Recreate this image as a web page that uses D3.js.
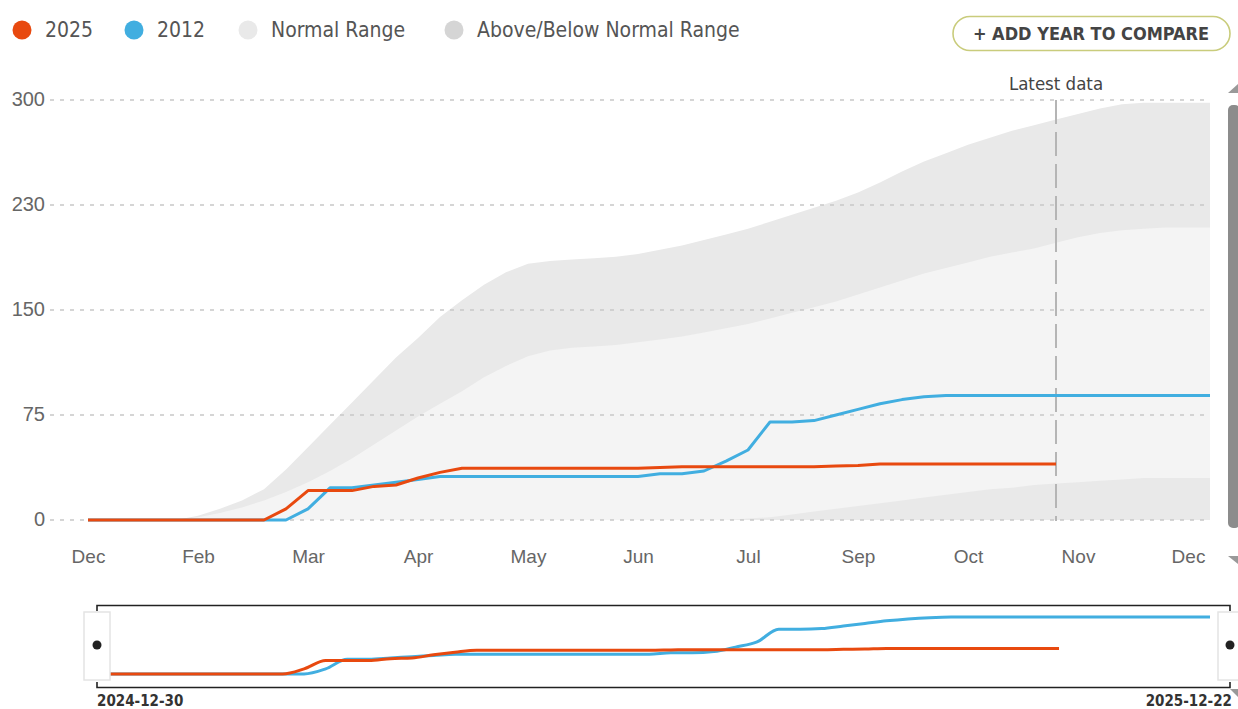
<!DOCTYPE html>
<html>
<head>
<meta charset="utf-8">
<script src="https://cdn.jsdelivr.net/npm/d3@7"></script>
<style>
  html, body { margin: 0; padding: 0; background: #fff; }
  svg { display: block; font-family: "DejaVu Sans Condensed", "Noto Sans", sans-serif; }
</style>
</head>
<body>
<svg id="chart" width="1238" height="709"></svg>
<script>
// ---------- data ----------
const startDate = "2024-12-30";
const endDate = "2025-12-22";
const latestDate = "2025-11-03";
const weekCount = 52; // weekly points from startDate

const series2025 = [0,0,0,0,0,0,0,0,0,8,21,21,21,24,25,30,34,37,37,37,37,37,37,37,37,37,37.5,38,38,38,38,38,38,38,38.5,39,40,40,40,40,40,40,40,40,40];
const series2012 = [0,0,0,0,0,0,0,0,0,0,8,23,23,25,27,29,31,31,31,31,31,31,31,31,31,31,33,33,35,42,50,70,70,71,75,79,83,86,88,89,89,89,89,89,89,89,89,89,89,89,89,89];

const rangeMax    = [0,0,0,0,0,3,8,14,22,36,52,68,84,100,116,130,145,157,168,177,183,185,186,187,188,190,193,196,200,204,208,213,218,223,228,234,241,249,256,262,268,273,278,282,286,290,294,297,298,298,298,298];
const normalUpper = [0,0,0,0,0,2,5,9,14,20,27,35,44,54,64,74,83,92,102,110,117,121,123,124,125,127,129,131,134,137,140,144,148,152,156,161,166,171,176,180,184,188,191,194,198,202,205,207,208,209,209,209];
const normalLower = [0,0,0,0,0,0,0,0,0,0,0,0,0,0,0,0,0,0,0,0,0,0,0,0,0,0,0,0,0,0,1,2,4,6,8,10,12,14,16,18,20,22,23,25,26,27,28,29,30,30,30,30];
const rangeMin    = new Array(weekCount).fill(0);

const yTickValues = [0, 75, 150, 225, 300];
const yTickLabels = ["0", "75", "150", "230", "300"];
const xTickDates = ["2024-12-30","2025-02-03","2025-03-10","2025-04-14","2025-05-19","2025-06-23","2025-07-28","2025-09-01","2025-10-06","2025-11-10","2025-12-15"];

const legendItems = [
  {label: "2025", color: "#e8490f"},
  {label: "2012", color: "#41aee0"},
  {label: "Normal Range", color: "#e9e9e9"},
  {label: "Above/Below Normal Range", color: "#d5d5d5"}
];

// ---------- setup ----------
const parse = d3.utcParse("%Y-%m-%d");
const t0 = parse(startDate);
const dates = d3.range(weekCount).map(i => d3.utcDay.offset(t0, i * 7));

const svg = d3.select("#chart");
const x = d3.scaleUtc().domain([t0, parse(endDate)]).range([88, 1210]);
const y = d3.scaleLinear().domain([0, 300]).range([520, 100]);

const col = {orange: "#e8490f", blue: "#41aee0", text: "#666", band: "#e9e9e9", normal: "#f4f4f4"};

// ---------- bands ----------
const area = (lo, hi) => d3.area()
  .x((d, i) => x(dates[i]))
  .y0((d, i) => y(lo[i]))
  .y1((d, i) => y(hi[i]))(dates);

svg.append("path").attr("d", area(rangeMin, rangeMax)).attr("fill", col.band);
svg.append("path").attr("d", area(normalLower, normalUpper)).attr("fill", col.normal);

// ---------- grid ----------
const grid = svg.append("g");
grid.selectAll("line").data(yTickValues).join("line")
  .attr("x1", 50).attr("x2", 1210)
  .attr("y1", d => y(d)).attr("y2", d => y(d))
  .attr("stroke", "#c8c8c8").attr("stroke-width", 1.3)
  .attr("stroke-dasharray", "4,6");

// ---------- axes ----------
const yAxis = d3.axisLeft(y).tickValues(yTickValues)
  .tickFormat((d, i) => yTickLabels[i]).tickSize(0).tickPadding(0);
const yg = svg.append("g").attr("transform", "translate(45,0)").call(yAxis);
yg.select(".domain").remove();
yg.selectAll("text").attr("fill", col.text).attr("font-size", 20).attr("dy", "0.28em")
  .style("font-family", "inherit");

const xAxis = d3.axisBottom(x).tickValues(xTickDates.map(parse))
  .tickFormat(d3.utcFormat("%b")).tickSize(0).tickPadding(0);
const xg = svg.append("g").attr("transform", "translate(0,549)").call(xAxis);
xg.select(".domain").remove();
xg.selectAll("text").attr("fill", col.text).attr("font-size", 19)
  .style("font-family", "inherit");

// ---------- latest data ----------
const xl = x(parse(latestDate));
svg.append("line").attr("x1", xl).attr("x2", xl).attr("y1", 100).attr("y2", 521)
  .attr("stroke", "#b5b5b5").attr("stroke-width", 2).attr("stroke-dasharray", "24,8");
svg.append("text").attr("x", xl).attr("y", 90).attr("text-anchor", "middle")
  .attr("font-size", 18.5).attr("fill", "#444").text("Latest data");

// ---------- lines ----------
const line = d3.line().x((d, i) => x(dates[i])).y(d => y(d));
svg.append("path").attr("d", line(series2012)).attr("fill", "none")
  .attr("stroke", col.blue).attr("stroke-width", 3).attr("stroke-linejoin", "round");
svg.append("path").attr("d", line(series2025)).attr("fill", "none")
  .attr("stroke", col.orange).attr("stroke-width", 3).attr("stroke-linejoin", "round");

// ---------- legend ----------
const legendX = [22, 134, 248, 454];
const lg = svg.append("g");
legendItems.forEach((it, i) => {
  lg.append("circle").attr("cx", legendX[i]).attr("cy", 30).attr("r", 9.5).attr("fill", it.color);
  lg.append("text").attr("x", legendX[i] + 23).attr("y", 37).attr("font-size", 21)
    .attr("fill", "#555").text(it.label);
});

// ---------- button ----------
svg.append("rect").attr("x", 953).attr("y", 16.5).attr("width", 277).attr("height", 34)
  .attr("rx", 17).attr("fill", "#fff").attr("stroke", "#c9cc7c").attr("stroke-width", 1.6);
svg.append("text").attr("x", 1091).attr("y", 40).attr("text-anchor", "middle")
  .attr("font-size", 18).attr("font-weight", "bold").attr("fill", "#444")
  .text("+ ADD YEAR TO COMPARE");

// ---------- scrollbar ----------
svg.append("rect").attr("x", 1228).attr("y", 105).attr("width", 12).attr("height", 423)
  .attr("rx", 5).attr("fill", "#8c8c8c");
svg.append("path").attr("d", "M1228,93 L1238,93 L1238,84 Z").attr("fill", "#999");
svg.append("path").attr("d", "M1228,556 L1238,556 L1238,564 Z").attr("fill", "#999");

// ---------- navigator ----------
const nx = d3.scaleUtc().domain([t0, parse(endDate)]).range([110, 1210]);
const ny = d3.scaleLinear().domain([0, 89]).range([674, 617]);
const nline = d3.line().x((d, i) => nx(dates[i])).y(d => ny(d)).curve(d3.curveMonotoneX);

svg.append("path").attr("d", "M97,611 L97,605.5 L1230,605.5 L1230,611").attr("fill", "none")
  .attr("stroke", "#222").attr("stroke-width", 1.6);
svg.append("path").attr("d", "M97,682 L97,687.5 L1230,687.5 L1230,682").attr("fill", "none")
  .attr("stroke", "#222").attr("stroke-width", 1.6);

svg.append("path").attr("d", nline(series2012)).attr("fill", "none")
  .attr("stroke", col.blue).attr("stroke-width", 3);
svg.append("path").attr("d", nline(series2025)).attr("fill", "none")
  .attr("stroke", col.orange).attr("stroke-width", 3);

const handles = [{x: 84, w: 26, dot: 97}, {x: 1218, w: 22, dot: 1230}];
handles.forEach(h => {
  svg.append("rect").attr("x", h.x).attr("y", 612).attr("width", h.w).attr("height", 68)
    .attr("fill", "#fff").attr("stroke", "#e4e4e4").attr("stroke-width", 1.5);
  svg.append("circle").attr("cx", h.dot).attr("cy", 645).attr("r", 4.5).attr("fill", "#222");
});

svg.append("text").attr("x", 97).attr("y", 706).attr("font-size", 15).attr("font-weight", "bold")
  .attr("fill", "#333").text(d3.utcFormat("%Y-%m-%d")(t0));
svg.append("text").attr("x", 1232).attr("y", 706).attr("font-size", 15).attr("font-weight", "bold")
  .attr("text-anchor", "end").attr("fill", "#333").text(endDate);
svg.append("path").attr("d", "M1230,689 L1238,689 L1238,697 Z").attr("fill", "#999");
</script>
</body>
</html>
